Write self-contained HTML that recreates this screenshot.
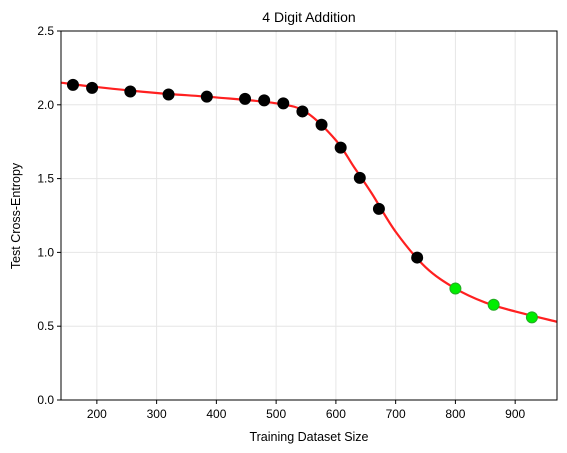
<!DOCTYPE html>
<html><head><meta charset="utf-8"><style>
body{margin:0;background:#fff}
svg{display:block;font-family:"Liberation Sans","DejaVu Sans",sans-serif}
</style></head><body>
<svg id="chart" width="567" height="453">
<rect width="567" height="453" fill="#fff"/>
<g id="grid"></g>
<g id="curve"></g>
<g id="points"></g>
<rect x="61" y="31" width="496" height="369" fill="none" stroke="#000" stroke-width="1"/>
<g id="axes"></g>
<text x="309" y="22" text-anchor="middle" font-size="14">4 Digit Addition</text>
<text x="309" y="441" text-anchor="middle" font-size="12.5">Training Dataset Size</text>
<text x="20" y="216" text-anchor="middle" font-size="12.5" transform="rotate(-90 20 216)">Test Cross-Entropy</text>
</svg>
<script>
const sizes=[160,192,256,320,384,448,480,512,544,576,608,640,672,736,800,864,928];
const losses=[2.135,2.115,2.09,2.07,2.055,2.04,2.03,2.01,1.955,1.865,1.71,1.505,1.295,0.965,0.755,0.645,0.56];
const heldOut=[false,false,false,false,false,false,false,false,false,false,false,false,false,false,true,true,true];
const fitX=[140,200,300,400,500,550,600,630,660,700,750,800,850,900,970];
const fitY=[2.15,2.12,2.08,2.05,2.01,1.95,1.76,1.58,1.40,1.14,0.90,0.755,0.66,0.60,0.53];
const xTicks=[200,300,400,500,600,700,800,900];
const yTicks=[0.0,0.5,1.0,1.5,2.0,2.5];
const X0=140,X1=970,Y0=0,Y1=2.5,L=61,R=557,T=31,B=400;
const sx=v=>L+(v-X0)/(X1-X0)*(R-L);
const sy=v=>B-(v-Y0)/(Y1-Y0)*(B-T);
const NS='http://www.w3.org/2000/svg';
function mk(t,a,p){const e=document.createElementNS(NS,t);for(const k in a)e.setAttribute(k,a[k]);p.appendChild(e);return e;}
const grid=document.getElementById('grid'),axes=document.getElementById('axes');
xTicks.forEach(v=>{
 const g=mk('line',{x1:sx(v),x2:sx(v),y1:T,y2:B,stroke:'#e6e6e6'},grid);
 
 
 mk('line',{x1:sx(v),x2:sx(v),y1:B,y2:B+4,stroke:'#000'},axes);
 const t=mk('text',{x:sx(v),y:B+18,'text-anchor':'middle','font-size':12},axes);
 t.textContent=v;
 
 
});
yTicks.forEach(v=>{
 const g=mk('line',{x1:L,x2:R,y1:sy(v),y2:sy(v),stroke:'#e6e6e6'},grid);
 
 
 mk('line',{x1:L-4,x2:L,y1:sy(v),y2:sy(v),stroke:'#000'},axes);
 const t=mk('text',{x:L-7,y:sy(v)+4,'text-anchor':'end','font-size':12},axes);
 t.textContent=v.toFixed(1);
 
 
});
// catmull-rom fit curve
const pts=fitX.map((x,i)=>[sx(x),sy(fitY[i])]);
let d='M'+pts[0][0]+','+pts[0][1];
for(let i=0;i<pts.length-1;i++){
 const p0=pts[Math.max(i-1,0)],p1=pts[i],p2=pts[i+1],p3=pts[Math.min(i+2,pts.length-1)];
 const c1=[p1[0]+(p2[0]-p0[0])/6,p1[1]+(p2[1]-p0[1])/6];
 const c2=[p2[0]-(p3[0]-p1[0])/6,p2[1]-(p3[1]-p1[1])/6];
 d+=` C${c1[0]},${c1[1]} ${c2[0]},${c2[1]} ${p2[0]},${p2[1]}`;
}
const cv=mk('path',{d:d,fill:'none',stroke:'#ff2020',"stroke-width":2.2},document.getElementById('curve'));


const pg=document.getElementById('points');
sizes.forEach((x,i)=>{
 const c=mk('circle',{cx:sx(x),cy:sy(losses[i]),r:5.5,fill:heldOut[i]?'#00ee00':'#000',stroke:heldOut[i]?'#22aa22':'#000','stroke-width':1},pg);
 
 
});
</script>
</body></html>
